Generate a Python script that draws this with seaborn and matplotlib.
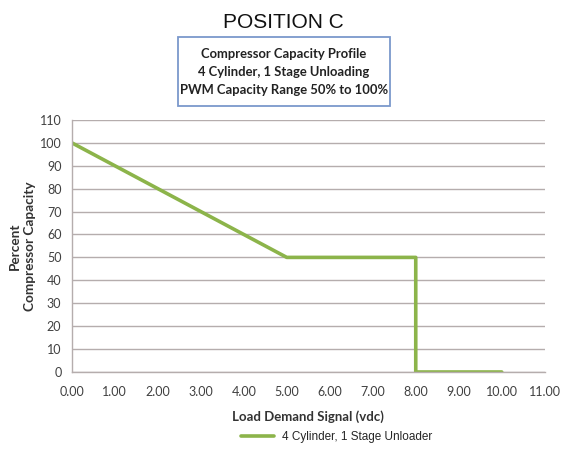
import pandas as pd
import matplotlib.pyplot as plt
import seaborn as sns
from matplotlib.lines import Line2D
from matplotlib.patches import Rectangle

# Data
load_signal = [0.0, 5.0, 8.0, 8.0, 10.0]
capacity = [100, 50, 50, 0, 0]
series_name = '4 Cylinder, 1 Stage Unloader'
x_ticks = [0, 1, 2, 3, 4, 5, 6, 7, 8, 9, 10, 11]
y_ticks = [0, 10, 20, 30, 40, 50, 60, 70, 80, 90, 100, 110]

df = pd.DataFrame({'Load': load_signal, 'Capacity': capacity})

sns.set_style('white')
plt.rcParams['font.family'] = ['Lato', 'DejaVu Sans']

fig = plt.figure(figsize=(5.61, 4.49), dpi=100)
ax = fig.add_axes([0.128, 0.1715, 0.843, 0.5615])

green = '#8cb44a'
grid_c = '#b5adad'

sns.lineplot(data=df, x='Load', y='Capacity', sort=False, estimator=None,
             color=green, linewidth=2.6, ax=ax)

ax.set_xlim(0, 11)
ax.set_ylim(0, 110)
ax.set_xticks(x_ticks)
ax.set_xticklabels([f'{v:.2f}' for v in x_ticks])
ax.set_yticks(y_ticks)
ax.yaxis.grid(True, color=grid_c, linewidth=1.0)
ax.xaxis.grid(False)
ax.set_axisbelow(True)
for s in ['top', 'right']:
    ax.spines[s].set_visible(False)
for s in ['left', 'bottom']:
    ax.spines[s].set_color(grid_c)
    ax.spines[s].set_linewidth(1.0)
ax.tick_params(axis='both', length=4, width=1, color=grid_c,
               labelsize=9, labelcolor='#404040', direction='out')
ax.tick_params(axis='x', pad=6)

ax.set_xlabel('Load Demand Signal (vdc)', fontsize=9.5, fontweight='bold',
              color='#333333', labelpad=9)
ax.set_ylabel('Percent\nCompressor Capacity', fontsize=9.8, fontweight='bold',
              color='#333333', linespacing=1.3, va='center')
ax.yaxis.set_label_coords(-0.104, 0.5)

# titles
fig.text(0.505, 0.95, 'POSITION C', ha='center', va='center', fontsize=15,
         family='Liberation Sans', color='#111111')

# boxed subtitle (box drawn in figure pixels / size)
W, H = 561, 449
fig.patches.append(Rectangle((178 / W, 1 - 106 / H), 212 / W, 69 / H,
                             transform=fig.transFigure, facecolor='white',
                             edgecolor='#7b98cc', linewidth=1.3))
fig.text(284 / W, 1 - 72 / H,
         'Compressor Capacity Profile\n4 Cylinder, 1 Stage Unloading\nPWM Capacity Range 50% to 100%',
         ha='center', va='center', fontsize=9.4, fontweight='bold', color='#222222',
         linespacing=1.65)

# legend
handle = Line2D([], [], color=green, linewidth=2.6)
fig.legend([handle], [series_name], loc='center', bbox_to_anchor=(0.6, 0.027),
           frameon=False, prop={'family': 'Liberation Sans', 'size': 8.5},
           handlelength=2.8, handletextpad=0.6)

plt.savefig('out.png', dpi=100)
